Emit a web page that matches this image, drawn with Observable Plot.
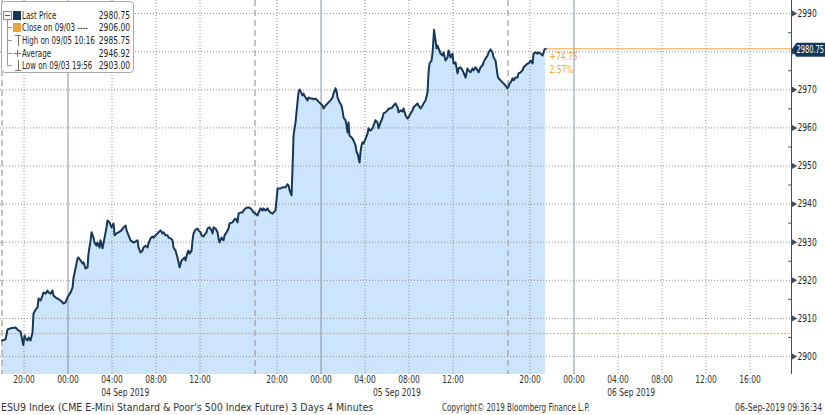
<!DOCTYPE html>
<html><head><meta charset="utf-8">
<script src="https://cdn.jsdelivr.net/npm/d3@7"></script>
<script src="https://cdn.jsdelivr.net/npm/@observablehq/plot@0.6"></script>
<style>
body{margin:0;background:#fff;}
#wrap{position:relative;width:825px;height:415px;overflow:hidden;background:#fff;
 font-family:"Liberation Sans Narrow","Arial Narrow","DejaVu Sans Condensed","Liberation Sans",sans-serif;color:#222;}
#wrap svg{position:absolute;left:0;top:0;}
.lg-box{position:absolute;left:1px;top:1px;width:131px;height:70px;border:1px solid #a9a9a9;border-radius:4px;background:#fff;}
.lg-row{position:absolute;left:0;height:13px;line-height:13px;font-size:10.5px;white-space:nowrap;}
.lg-lab{position:absolute;left:22px;transform:scaleX(0.75);transform-origin:0 50%;}
.lg-val{position:absolute;right:0;transform:scaleX(0.8);transform-origin:100% 50%;}
.foot{position:absolute;top:400px;line-height:14px;font-size:10.5px;color:#333;white-space:nowrap;}
</style></head><body><div id="wrap"></div>
<script>
// ---- data (hours of trading since 18:00 on 03 Sep 2019, price) ----
const hours = [
 0,0.32,0.50,0.77,1.23,1.50,1.68,1.93,2.05,2.14,
 2.32,2.41,2.59,2.77,2.86,3.05,3.23,3.32,3.50,3.68,
 3.77,3.95,4.14,4.23,4.41,4.59,4.68,4.86,5.05,5.32,
 5.59,5.77,5.95,6.23,6.41,6.50,6.68,6.86,6.95,7.14,
 7.32,7.41,7.59,7.77,7.86,8.05,8.14,8.32,8.41,8.59,
 8.68,8.86,8.95,9.14,9.32,9.50,9.59,9.77,9.95,10.14,
 10.23,10.41,10.59,10.86,11.05,11.23,11.32,11.50,11.68,11.95,
 12.32,12.41,12.59,12.77,12.86,13.05,13.23,13.32,13.50,13.68,
 13.77,13.95,14.14,14.23,14.41,14.59,14.68,14.86,15.05,15.14,
 15.32,15.50,15.59,15.77,15.95,16.05,16.14,16.32,16.50,16.59,
 16.68,16.86,16.95,17.05,17.23,17.32,17.41,17.59,17.77,17.86,
 18.05,18.14,18.32,18.41,18.59,18.68,18.86,19.05,19.14,19.23,
 19.41,19.59,19.68,19.77,19.95,20.14,20.23,20.41,20.59,20.68,
 20.95,21.05,21.23,21.41,21.50,21.68,21.86,21.95,22.14,22.32,
 22.41,22.59,22.77,22.86,23.05,23.23,23.32,23.50,23.68,23.77,
 23.95,24.14,24.23,24.41,24.59,24.68,24.86,24.95,25.05,25.32,
 25.50,25.77,25.95,26.05,26.14,26.32,26.41,26.50,26.59,26.68,
 26.77,26.86,26.95,27.05,27.23,27.32,27.41,27.59,27.77,27.86,
 28.05,28.23,28.32,28.50,28.68,28.77,28.95,29.14,29.23,29.41,
 29.59,29.68,29.86,30.05,30.14,30.32,30.41,30.50,30.68,30.86,
 30.95,31.05,31.23,31.32,31.41,31.50,31.59,31.77,31.86,31.95,
 32.14,32.23,32.32,32.50,32.59,32.68,32.77,32.86,33.05,33.23,
 33.32,33.50,33.68,33.77,33.95,34.14,34.23,34.41,34.59,34.68,
 34.86,35.05,35.14,35.32,35.50,35.59,35.77,35.95,36.05,36.23,
 36.41,36.50,36.68,36.86,36.95,37.14,37.32,37.41,37.59,37.77,
 37.86,38.05,38.23,38.32,38.50,38.68,38.77,38.86,39.05,39.14,
 39.20,39.27,39.41,39.50,39.59,39.77,39.86,40.05,40.14,40.32,
 40.50,40.59,40.77,40.95,41.05,41.23,41.41,41.50,41.68,41.86,
 41.95,42.14,42.32,42.41,42.59,42.77,42.86,43.05,43.23,43.32,
 43.50,43.68,43.77,43.95,44.14,44.23,44.41,44.59,44.68,44.86,
 44.95,45.05,45.14,45.32,45.50,45.59,45.77,45.95,46.05,46.14,
 46.23,46.41,46.50,46.68,46.86,46.95,47.14,47.32,47.41,47.59,
 47.77,47.86,48.05,48.23,48.32,48.50,48.68,48.77,48.95,49.14,
 49.23,49.32,49.41
];
const prices = [
 2904.2,2904.5,2907.1,2907.4,2907.6,2906.8,2906.6,2903.0,2905.5,2904.7,
 2904.2,2905.0,2904.2,2906.3,2911.3,2912.3,2912.9,2915.2,2914.7,2916.0,
 2916.8,2916.5,2917.3,2916.8,2916.5,2917.3,2916.0,2915.5,2915.2,2914.7,
 2913.9,2914.2,2915.5,2916.8,2918.1,2920.7,2923.1,2925.7,2926.0,2925.2,
 2924.4,2924.7,2923.1,2923.4,2927.0,2930.5,2932.6,2931.2,2929.9,2929.1,
 2929.9,2928.6,2930.5,2928.4,2931.2,2933.9,2935.7,2935.2,2933.9,2934.9,
 2931.8,2932.3,2932.6,2933.1,2933.9,2934.4,2933.1,2931.8,2930.5,2929.9,
 2930.5,2928.6,2927.3,2927.8,2928.6,2929.1,2928.6,2929.7,2931.0,2931.5,
 2931.2,2931.8,2932.3,2932.6,2933.1,2932.3,2932.6,2931.8,2931.8,2931.2,
 2931.0,2930.5,2928.6,2927.8,2926.0,2924.7,2923.4,2925.2,2925.7,2926.0,
 2925.2,2927.3,2927.8,2927.0,2927.8,2930.5,2932.3,2933.3,2933.6,2933.1,
 2932.6,2931.8,2931.5,2932.0,2932.6,2933.6,2933.9,2933.1,2932.3,2933.9,
 2933.6,2932.6,2931.0,2929.9,2931.2,2930.5,2931.8,2932.6,2933.6,2934.9,
 2935.2,2935.7,2936.2,2935.2,2937.5,2937.8,2937.8,2938.3,2938.9,2939.1,
 2939.1,2938.9,2938.3,2937.8,2937.5,2937.0,2937.8,2938.9,2938.3,2938.9,
 2938.3,2938.9,2938.3,2937.8,2937.5,2937.8,2938.3,2941.0,2944.1,2944.1,
 2944.4,2944.4,2945.2,2944.9,2943.6,2942.3,2949.4,2958.0,2959.9,2961.4,
 2964.1,2966.7,2969.3,2970.1,2969.0,2968.5,2969.0,2968.0,2967.2,2968.0,
 2967.7,2967.7,2967.5,2967.7,2967.2,2966.9,2966.4,2965.9,2965.1,2965.9,
 2966.4,2966.7,2967.2,2968.0,2969.0,2970.4,2969.8,2968.0,2966.7,2965.9,
 2964.6,2962.7,2962.0,2960.6,2958.8,2961.4,2958.0,2957.5,2957.2,2956.7,
 2955.4,2953.6,2953.3,2950.9,2953.6,2955.4,2956.2,2955.9,2957.2,2958.5,
 2959.9,2959.3,2959.9,2960.6,2962.0,2961.4,2959.9,2961.4,2962.7,2963.8,
 2964.1,2964.6,2965.1,2965.1,2965.4,2965.9,2966.4,2965.4,2964.1,2964.6,
 2964.3,2965.1,2963.3,2962.5,2962.7,2963.8,2964.6,2965.4,2965.9,2966.4,
 2965.9,2965.1,2965.9,2966.4,2967.2,2969.3,2974.3,2976.9,2977.7,2979.8,
 2982.2,2985.75,2983.0,2980.9,2981.6,2980.3,2979.5,2979.0,2979.8,2977.7,
 2978.5,2980.3,2978.5,2979.5,2976.9,2977.2,2974.3,2975.6,2975.9,2975.1,
 2974.6,2973.2,2975.6,2975.1,2974.6,2975.6,2975.1,2975.9,2975.1,2974.6,
 2975.9,2976.4,2977.2,2978.2,2979.0,2979.8,2980.6,2979.8,2978.5,2977.7,
 2975.9,2973.8,2973.0,2972.5,2971.9,2971.7,2971.1,2970.4,2970.9,2971.7,
 2971.9,2973.0,2972.5,2973.2,2973.2,2974.3,2974.6,2975.1,2975.9,2976.4,
 2976.9,2976.9,2977.7,2976.9,2979.5,2979.8,2979.5,2979.8,2979.5,2979.0,
 2979.8,2980.6,2980.75
];
const lastPrice = 2980.75;
const closePrice = 2906.00;
const changeLabels = ["+74.75", "2.57%"];

// axes
const xDomain = [-0.14, 71.77];
const yDomain = [2895.28, 2993.44];
const yTicks = [2900,2910,2920,2930,2940,2950,2960,2970,2980,2990];
const yMinorTicks = [2905,2915,2925,2935,2945,2955,2965,2975,2985];
const xTickHours = [2,6,10,14,18,25,29,33,37,41,48,52,56,60,64,68];
const xTickLabels = ["20:00","00:00","04:00","08:00","12:00","20:00","00:00","04:00","08:00","12:00","20:00","00:00","04:00","08:00","12:00","16:00"];
const dayStartHours = [6,29,52];
const sessionBreakHours = [0,23,46];
const dateLabelHours = [11.2,35.9,57.2];
const dateLabels = ["04 Sep 2019","05 Sep 2019","06 Sep 2019"];

// legend + footer texts
const legendLabels = ["Last Price","Close on 09/03 ----","High on 09/05 10:16","Average","Low on 09/03 19:56"];
const legendValues = ["2980.75","2906.00","2985.75","2946.92","2903.00"];
const footerTexts = ["ESU9 Index (CME E-Mini Standard & Poor's 500 Index Future) 3 Days 4 Minutes","Copyright\u00a9 2019 Bloomberg Finance L.P.","06-Sep-2019 09:36:34"];

const FONT = '"Liberation Sans Narrow","Arial Narrow","DejaVu Sans Condensed","Liberation Sans",sans-serif';
const NAVY = "#15375a", FILL = "#cde5fc", ORANGE = "#eda43a", GRID = "#8f8f8f", AXIS = "#3b4e63";

const data = hours.map((h, i) => ({h, p: prices[i]}));
const lastH = hours[hours.length - 1];
const xMax = xDomain[1];
// the "last price" tag covers the tick label nearest to it
const yLabelTicks = yTicks.filter(v => Math.abs(v - lastPrice) > 4);

const tagSymbol = {draw(ctx) { ctx.moveTo(0,0); ctx.lineTo(5,-7); ctx.lineTo(40,-7); ctx.lineTo(40,7); ctx.lineTo(5,7); ctx.closePath(); }};

const chart = Plot.plot({
  width: 825, height: 400,
  marginLeft: 0, marginRight: 34, marginTop: 0, marginBottom: 26,
  x: {domain: xDomain, axis: null},
  y: {domain: yDomain, axis: null},
  style: {fontFamily: FONT, fontSize: "10.5px", background: "transparent", overflow: "visible"},
  marks: [
    Plot.areaY(data, {x: "h", y1: yDomain[0], y2: "p", fill: FILL}),
    Plot.ruleY(yTicks, {stroke: GRID, strokeDasharray: "1,2"}),
    Plot.ruleX(xTickHours.filter(h => !dayStartHours.includes(h)), {stroke: GRID, strokeDasharray: "1,2"}),
    Plot.ruleX(dayStartHours, {stroke: "#8593a2"}),
    Plot.ruleX(sessionBreakHours, {stroke: "#a5a5a5", strokeDasharray: "6,4", strokeWidth: 1.3}),
    Plot.ruleY([closePrice], {stroke: ORANGE, strokeDasharray: "2,1.5"}),
    Plot.ruleY([lastPrice], {x1: lastH, x2: xMax, stroke: ORANGE}),
    Plot.line(data, {x: "h", y: "p", stroke: NAVY, strokeWidth: 2}),
    Plot.text([changeLabels[0]], {x: lastH, y: lastPrice, text: d => d, dx: 4, dy: 8, textAnchor: "start", fill: ORANGE, fontSize: 10.5}),
    Plot.text([changeLabels[1]], {x: lastH, y: lastPrice, text: d => d, dx: 4, dy: 21, textAnchor: "start", fill: ORANGE, fontSize: 10.5}),
    Plot.ruleX([xMax], {stroke: AXIS}),
    Plot.ruleY(yMinorTicks, {x1: xMax - 0.25, x2: xMax, stroke: AXIS}),
    Plot.dot(yTicks, {x: xMax, y: d => d, symbol: "triangle", rotate: 90, r: 2.4, fill: AXIS, stroke: "none", dx: 2}),
    Plot.text(yLabelTicks, {x: xMax, y: d => d, text: d => String(d), dx: 6, textAnchor: "start", fill: "#222"}),
    Plot.dot([lastPrice], {x: xMax, y: d => d, symbol: tagSymbol, r: 5, fill: NAVY, stroke: "none", dy: 1}),
    Plot.text([lastPrice], {x: xMax, y: d => d, text: d => d.toFixed(2), dx: 5, dy: 1, textAnchor: "start", fill: "#fff", fontSize: 10, className: "tagtext"}),
    Plot.text(xTickHours, {x: d => d, text: (d, i) => xTickLabels[i], frameAnchor: "bottom", dy: 8, fill: "#333"}),
    Plot.text(dateLabelHours, {x: d => d, text: (d, i) => dateLabels[i], frameAnchor: "bottom", dy: 21, fill: "#333"})
  ]
});

const wrap = document.getElementById("wrap");
wrap.appendChild(chart);

// narrow all chart texts horizontally (Bloomberg uses a condensed face)
chart.querySelectorAll("text").forEach(t => {
  const len = t.getComputedTextLength();
  const k = t.textContent === lastPrice.toFixed(2) ? 0.74 : 0.8;
  if (len > 0) {
    t.setAttribute("textLength", (len * k).toFixed(2));
    t.setAttribute("lengthAdjust", "spacingAndGlyphs");
  }
});

// legend
const box = document.createElement("div"); box.className = "lg-box"; wrap.appendChild(box);
const tree = document.createElement("div");
tree.style.cssText = "position:absolute;left:7px;top:19px;width:0;height:47px;border-left:1px solid #9a9a9a;";
wrap.appendChild(tree);
const minusBox = document.createElement("div");
minusBox.style.cssText = "position:absolute;left:3px;top:11px;width:7px;height:7px;border:1px solid #8a8a8a;background:#fff;";
minusBox.innerHTML = '<div style="position:absolute;left:1px;top:3px;width:5px;height:1px;background:#555"></div>';
wrap.appendChild(minusBox);
const icons = [
  '<div style="position:absolute;left:13px;top:2px;width:8px;height:9px;background:' + NAVY + '"></div>',
  '<div style="position:absolute;left:13px;top:2px;width:8px;height:9px;background:' + ORANGE + '"></div>',
  '<div style="position:absolute;left:15px;top:1px;width:6px;height:1px;background:#777"></div><div style="position:absolute;left:18px;top:1px;width:1px;height:11px;background:#777"></div>',
  '<div style="position:absolute;left:14px;top:6px;width:7px;height:1px;background:#777"></div><div style="position:absolute;left:17px;top:3px;width:1px;height:7px;background:#777"></div>',
  '<div style="position:absolute;left:15px;top:11px;width:6px;height:1px;background:#777"></div><div style="position:absolute;left:18px;top:1px;width:1px;height:11px;background:#777"></div>'
];
legendLabels.forEach((lab, i) => {
  const row = document.createElement("div");
  row.className = "lg-row";
  row.style.top = (8.5 + i * 12.7) + "px";
  row.style.width = "130px";
  const stub = i > 0 ? '<div style="position:absolute;left:7px;top:6px;width:5px;height:1px;background:#9a9a9a"></div>' : "";
  row.innerHTML = stub + icons[i] + '<span class="lg-lab">' + lab + '</span><span class="lg-val">' + legendValues[i] + '</span>';
  wrap.appendChild(row);
});

// footer
const f0 = document.createElement("div"); f0.className = "foot"; f0.style.left = "1px"; f0.textContent = footerTexts[0]; wrap.appendChild(f0);
const f1 = document.createElement("div"); f1.className = "foot"; f1.style.left = "442px"; f1.style.transform = "scaleX(0.76)"; f1.style.transformOrigin = "0 50%"; f1.textContent = footerTexts[1]; wrap.appendChild(f1);
const f2 = document.createElement("div"); f2.className = "foot"; f2.style.right = "3px"; f2.style.transform = "scaleX(0.82)"; f2.style.transformOrigin = "100% 50%"; f2.textContent = footerTexts[2]; wrap.appendChild(f2);
</script>
</body></html>
